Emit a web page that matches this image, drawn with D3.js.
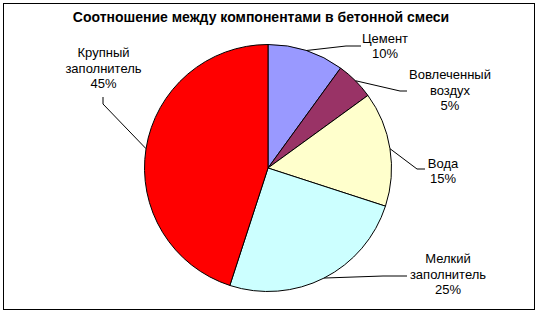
<!DOCTYPE html>
<html><head><meta charset="utf-8">
<script src="https://cdn.jsdelivr.net/npm/d3@7"></script>
<style>body{margin:0;background:#fff}svg{display:block}text{font-family:"Liberation Sans",Arial,sans-serif;fill:#000}</style>
</head><body><svg id="c" width="539" height="316"></svg>
<script>
const title = "Соотношение между компонентами в бетонной смеси";
const categories = ["Цемент", "Вовлеченный воздух", "Вода", "Мелкий заполнитель", "Крупный заполнитель"];
const labelLines = [["Цемент"], ["Вовлеченный", "воздух"], ["Вода"], ["Мелкий", "заполнитель"], ["Крупный", "заполнитель"]];
const values = [10, 5, 15, 25, 45];
const colors = ["#9999FF", "#993366", "#FFFFCC", "#CCFFFF", "#FF0000"];
// label layout: text anchor center, first baseline, leader elbow/end
const layout = [
  {x: 385, y: 42.5, elbow: [346, 46], end: [361, 46]},
  {x: 450, y: 79, elbow: [400, 91], end: [407, 91]},
  {x: 443, y: 167.5, elbow: [417, 169], end: [425, 169]},
  {x: 448, y: 263, elbow: [383, 276], end: [407, 276]},
  {x: 103.5, y: 57, elbow: [103, 104], end: [103, 97]}
];
const svg = d3.select("#c");
svg.append("rect").attr("x", 3.5).attr("y", 3.5).attr("width", 531).attr("height", 306)
  .attr("fill", "#fff").attr("stroke", "#000").attr("stroke-width", 1);
svg.append("text").attr("x", 261).attr("y", 22).attr("text-anchor", "middle")
  .style("font-weight", "bold").style("font-size", "14px").text(title);
const cx = 268, cy = 168, r = 123.5;
const total = d3.sum(values);
const pie = d3.pie().sort(null).value(d => d)(values);
const arc = d3.arc().innerRadius(0).outerRadius(r);
const g = svg.append("g").attr("transform", `translate(${cx},${cy})`);
g.selectAll("path").data(pie).join("path").attr("d", arc)
  .attr("fill", (d, i) => colors[i]).attr("stroke", "#000").attr("stroke-width", 1);
pie.forEach((d, i) => {
  const a = (d.startAngle + d.endAngle) / 2;
  const sx = cx + r * Math.sin(a), sy = cy - r * Math.cos(a);
  const L = layout[i];
  svg.append("polyline").attr("points", [[sx, sy], L.elbow, L.end].map(p => p.join(",")).join(" "))
    .attr("fill", "none").attr("stroke", "#000").attr("stroke-width", 1);
  const lines = labelLines[i].concat([Math.round(d.value / total * 100) + "%"]);
  const t = svg.append("text").attr("text-anchor", "middle").style("font-size", "13px");
  lines.forEach((s, j) => t.append("tspan").attr("x", L.x).attr("y", L.y + j * 15.6).text(s));
});
</script></body></html>
